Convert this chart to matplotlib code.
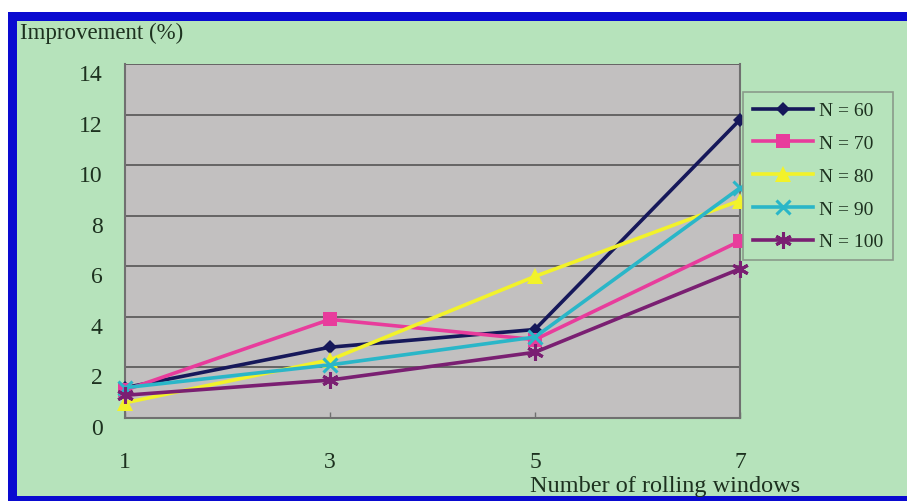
import matplotlib.pyplot as plt
from matplotlib.patches import Rectangle
from matplotlib.transforms import ScaledTranslation

# improvement (%) per number of rolling windows, one series per N
windows = [1, 3, 5, 7]
n60 = [1.2, 2.8, 3.5, 11.8]
n70 = [1.1, 3.9, 3.1, 7.0]
n80 = [0.6, 2.3, 5.6, 8.6]
n90 = [1.2, 2.1, 3.2, 9.1]
n100 = [0.9, 1.5, 2.6, 5.9]
labels = ['N = 60', 'N = 70', 'N = 80', 'N = 90', 'N = 100']
yticks = [0, 2, 4, 6, 8, 10, 12, 14]

plt.rcParams['font.family'] = ['Liberation Serif', 'DejaVu Serif']

green = '#b6e3bb'
txt = '#1d311f'
fig = plt.figure(figsize=(9.07, 5.02), dpi=100)
fig.patch.set_facecolor('white')

# green chart area with a blue frame on the left, top and bottom
W, H = 907, 502
fig.patches.append(Rectangle((8 / W, 0), 1 - 8 / W, 1 - 13 / H, transform=fig.transFigure,
                             facecolor='#0a0ad0', edgecolor='none', zorder=-3))
fig.patches.append(Rectangle((17 / W, 5 / H), 1 - 17 / W, 1 - 27 / H, transform=fig.transFigure,
                             facecolor=green, edgecolor='none', zorder=-2))

ax = fig.add_axes([125 / W, 1 - 419 / H, 615 / W, 354 / H])
ax.set_facecolor('#c2c0c0')

styles = [
    (n60, '#16185a', 'D', 7, False),
    (n70, '#e83c9c', 's', 10, False),
    (n80, '#f2f22a', '^', 11, False),
    (n90, '#2ab6c8', 'x', 10, True),
    (n100, '#7a1f72', (6, 2, 0), 12, True),
]
for (vals, col, mk, ms, stroked), lab in zip(styles, labels):
    ax.plot(windows, vals, color=col, lw=2.6, marker=mk, markersize=ms,
            markeredgewidth=2.2 if stroked else 0, label=lab, clip_on=False, zorder=3)

ax.set_xlim(1, 7)
ax.set_ylim(0, 14)
ax.set_xticks(windows)
ax.set_yticks(yticks)
ax.grid(axis='y', color='#555555', lw=1.2)
ax.set_axisbelow(True)
for side in ['left', 'bottom', 'right']:
    ax.spines[side].set_color('#707070')
    ax.spines[side].set_linewidth(1.5)
ax.spines['top'].set_visible(False)
ax.tick_params(axis='x', direction='in', length=4, width=1, color='#707070',
               pad=24, labelsize=17, labelcolor=txt)
ax.tick_params(axis='y', length=0, pad=16, labelsize=17, labelcolor=txt)

# y labels sit slightly below their gridlines
shift = ScaledTranslation(0, -8 / 100, fig.dpi_scale_trans)
for lbl in ax.get_yticklabels():
    lbl.set_transform(lbl.get_transform() + shift)

fig.text(20 / W, 1 - 33 / H, 'Improvement (%)', fontsize=16.5, color=txt, va='center')
fig.text(665 / W, 1 - 487 / H, 'Number of rolling windows', fontsize=17.5, color=txt,
         ha='center', va='center')

leg = fig.legend(loc='upper left', bbox_to_anchor=(743 / W, 1 - 93 / H), bbox_transform=fig.transFigure,
                 fontsize=14, frameon=True, fancybox=False, handlelength=3.1, labelspacing=0.78,
                 borderaxespad=0, borderpad=0.5, handletextpad=0.3)
leg.get_frame().set_facecolor(green)
leg.get_frame().set_edgecolor('#8a9a8a')
leg.get_frame().set_linewidth(1.2)
leg.get_frame().set_alpha(1)
for t in leg.get_texts():
    t.set_color(txt)

fig.savefig('out.png', dpi=100, facecolor=fig.get_facecolor())
